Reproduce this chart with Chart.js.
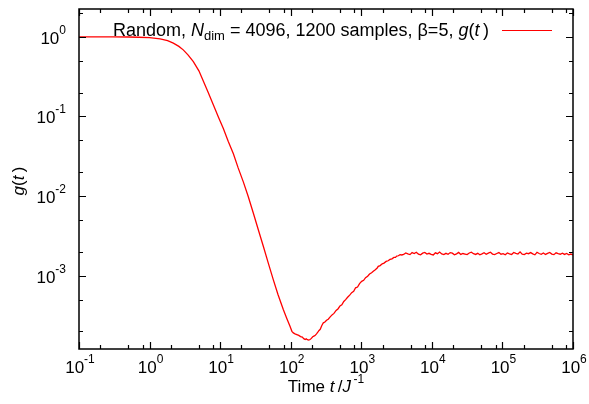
<!DOCTYPE html>
<html>
<head>
<meta charset="utf-8">
<script src="https://cdn.jsdelivr.net/npm/chart.js@4/dist/chart.umd.min.js"></script>
<style>
  html, body { margin: 0; padding: 0; background: #fff; }
</style>
</head>
<body>
<canvas id="grafico" width="589" height="404"></canvas>
<script>
// time values (t / J^-1) and g(t)
var tDecay = [0.1, 0.15, 0.2, 0.3, 0.5, 0.7, 1.0, 1.41, 1.8, 2.17,
  2.6, 3.0, 3.5, 4.17, 5.0, 5.77, 6.8, 8.0, 9.5, 11.1,
  13.0, 15.4, 18.0, 21.3, 25.0, 29.5, 35.0, 40.9, 48.0, 56.6,
  66.0, 78.5, 88.0, 97.7, 104, 109, 115, 122, 130, 138,
  146, 153, 160, 166, 172, 180, 188];
var gDecay = [1.0, 1.0, 1.0, 0.999, 0.996, 0.99, 0.976, 0.945, 0.895, 0.834,
  0.76, 0.687, 0.595, 0.49, 0.375, 0.28, 0.198, 0.140, 0.097, 0.0705,
  0.0488, 0.0340, 0.0226, 0.0151, 0.0099, 0.00614, 0.00370, 0.00234, 0.00145, 8.93e-4,
  5.8e-4, 3.76e-4, 2.9e-4, 2.32e-4, 2.0e-4, 1.91e-4, 1.86e-4, 1.82e-4, 1.78e-4, 1.72e-4,
  1.69e-4, 1.62e-4, 1.58e-4, 1.61e-4, 1.57e-4, 1.55e-4, 1.58e-4];

var tRise = [196, 205, 213, 221, 232, 242, 252, 262, 275, 290,
  305, 322, 340, 360, 385, 410, 440, 470, 499, 530,
  565, 600, 640, 685, 731, 780, 830, 885, 945, 1013,
  1080, 1150, 1230, 1310, 1400, 1480, 1580, 1680, 1741, 1850,
  1980, 2100, 2250, 2400, 2552, 2720, 2900, 3050, 3175, 3350,
  3550, 3750];
var gRise = [1.63e-4, 1.71e-4, 1.74e-4, 1.77e-4, 1.86e-4, 1.95e-4, 2.05e-4, 2.12e-4, 2.35e-4, 2.56e-4,
  2.62e-4, 2.76e-4, 2.84e-4, 3.02e-4, 3.22e-4, 3.36e-4, 3.66e-4, 3.85e-4, 4.18e-4, 4.32e-4,
  4.75e-4, 5.0e-4, 5.36e-4, 5.7e-4, 6.12e-4, 6.35e-4, 7.05e-4, 7.2e-4, 7.95e-4, 8.5e-4,
  8.75e-4, 9.45e-4, 9.85e-4, 1.05e-3, 1.09e-3, 1.14e-3, 1.19e-3, 1.25e-3, 1.31e-3, 1.34e-3,
  1.41e-3, 1.44e-3, 1.51e-3, 1.54e-3, 1.60e-3, 1.63e-3, 1.70e-3, 1.70e-3, 1.76e-3, 1.78e-3,
  1.84e-3, 1.82e-3];

var tPlateau = [3981, 4266, 4571, 4898, 5248, 5623, 6026, 6457, 6918, 7413,
  7943, 8511, 9120, 9772, 10470, 11220, 12020, 12880, 13800, 14790,
  15850, 16980, 18200, 19500, 20890, 22390, 23990, 25700, 27540, 29510,
  31620, 33880, 36310, 38900, 41690, 44670, 47860, 51290, 54950, 58880,
  63100, 67610, 72440, 77620, 83180, 89130, 95500, 102300, 109600, 117500,
  125900, 134900, 144500, 154900, 166000, 177800, 190500, 204200, 218800, 234400,
  251200, 269200, 288400, 309000, 331100, 354800, 380200, 407400, 436500, 467700,
  501200, 537000, 575400, 616600, 660700, 707900, 758600, 812800, 871000, 933300,
  1000000];
var gPlateau = [1.85e-3, 1.93e-3, 1.88e-3, 1.84e-3, 1.95e-3, 1.90e-3, 1.97e-3, 1.86e-3, 1.83e-3, 1.92e-3,
  1.96e-3, 1.87e-3, 1.91e-3, 1.85e-3, 1.82e-3, 1.94e-3, 1.89e-3, 1.98e-3, 1.88e-3, 1.84e-3,
  1.91e-3, 1.86e-3, 1.95e-3, 1.92e-3, 1.83e-3, 1.88e-3, 1.96e-3, 1.85e-3, 1.90e-3, 1.87e-3,
  1.84e-3, 1.93e-3, 1.97e-3, 1.89e-3, 1.85e-3, 1.91e-3, 1.83e-3, 1.88e-3, 1.94e-3, 1.86e-3,
  1.92e-3, 1.97e-3, 1.87e-3, 1.84e-3, 1.90e-3, 1.95e-3, 1.86e-3, 1.89e-3, 1.83e-3, 1.93e-3,
  1.88e-3, 1.85e-3, 1.96e-3, 1.91e-3, 1.87e-3, 1.99e-3, 1.86e-3, 1.84e-3, 1.92e-3, 1.89e-3,
  1.95e-3, 1.88e-3, 1.83e-3, 1.97e-3, 1.90e-3, 1.86e-3, 1.93e-3, 1.85e-3, 1.91e-3, 1.96e-3,
  1.87e-3, 1.84e-3, 1.94e-3, 1.89e-3, 1.86e-3, 1.92e-3, 1.85e-3, 1.90e-3, 1.83e-3, 1.87e-3,
  1.82e-3];

// tick labels are 10^exp
var xTickExp = [-1, 0, 1, 2, 3, 4, 5, 6];
var yTickExp = [0, -1, -2, -3];
var xMinor = [2, 5, 8];
var yMinor = [2, 5];

var FONT = '"Liberation Sans", Arial, Helvetica, sans-serif';

var tAll = tDecay.concat(tRise, tPlateau);
var gAll = gDecay.concat(gRise, gPlateau);
var punti = tAll.map(function (t, i) { return { x: t, y: gAll[i] }; });

// draw a list of text pieces: [text, italic, size, dy]
function pezzi(ctx, segs, x, y, align, size) {
  var w = 0;
  size = size || 17;
  segs.forEach(function (s) {
    ctx.font = (s[1] ? 'italic ' : '') + (s[2] || size) + 'px ' + FONT;
    s.w = ctx.measureText(s[0]).width;
    w += s.w;
  });
  var cx = align === 'right' ? x - w : (align === 'center' ? x - w / 2 : x);
  ctx.textAlign = 'left';
  ctx.textBaseline = 'alphabetic';
  segs.forEach(function (s) {
    ctx.font = (s[1] ? 'italic ' : '') + (s[2] || size) + 'px ' + FONT;
    ctx.fillText(s[0], cx, y + (s[3] || 0));
    cx += s.w;
  });
  return w;
}

var cornice = {
  id: 'cornice',
  afterDraw: function (chart) {
    var ctx = chart.ctx, a = chart.chartArea;
    var xs = chart.scales.x, ys = chart.scales.y;
    ctx.save();
    ctx.fillStyle = '#000';
    ctx.strokeStyle = '#000';
    ctx.lineWidth = 1.5;
    ctx.strokeRect(a.left, a.top, a.right - a.left, a.bottom - a.top);

    // ticks, drawn inside on all four sides
    ctx.lineWidth = 1.2;
    ctx.beginPath();
    xTickExp.forEach(function (e) {
      var v = Math.pow(10, e);
      var px = Math.round(xs.getPixelForValue(v)) + 0.5;
      ctx.moveTo(px, a.bottom); ctx.lineTo(px, a.bottom - 7);
      ctx.moveTo(px, a.top); ctx.lineTo(px, a.top + 7);
      if (e < 6) {
        xMinor.forEach(function (m) {
          var q = Math.round(xs.getPixelForValue(m * v)) + 0.5;
          ctx.moveTo(q, a.bottom); ctx.lineTo(q, a.bottom - 4);
          ctx.moveTo(q, a.top); ctx.lineTo(q, a.top + 4);
        });
      }
    });
    [-4, -3, -2, -1, 0].forEach(function (e) {
      var v = Math.pow(10, e);
      var py = Math.round(ys.getPixelForValue(v)) + 0.5;
      if (py > a.top && py < a.bottom) {
        ctx.moveTo(a.left, py); ctx.lineTo(a.left + 7, py);
        ctx.moveTo(a.right, py); ctx.lineTo(a.right - 7, py);
      }
      yMinor.forEach(function (m) {
        var q = Math.round(ys.getPixelForValue(m * v)) + 0.5;
        if (q > a.top + 1 && q < a.bottom - 1) {
          ctx.moveTo(a.left, q); ctx.lineTo(a.left + 4, q);
          ctx.moveTo(a.right, q); ctx.lineTo(a.right - 4, q);
        }
      });
    });
    ctx.stroke();

    // tick labels
    xTickExp.forEach(function (e) {
      var px = xs.getPixelForValue(Math.pow(10, e));
      pezzi(ctx, [['10', false, 17], [String(e), false, 12, -10]], px + 1, 373, 'center');
    });
    yTickExp.forEach(function (e) {
      var py = ys.getPixelForValue(Math.pow(10, e));
      pezzi(ctx, [['10', false, 17], [String(e), false, 12, -10]], 66, py + 7, 'right');
    });

    // axis titles
    pezzi(ctx, [['Time ', false], ['t', true], ['\u2009/', false], ['J', true], ['\u2009-1', false, 12, -9]], 326, 392, 'center');
    ctx.save();
    ctx.translate(24, 181);
    ctx.rotate(-Math.PI / 2);
    pezzi(ctx, [['g', true], ['(', false], ['t', true], ['\u2009)', false]], 0, 0, 'center');
    ctx.restore();

    // key
    var ds = chart.data.datasets[0];
    pezzi(ctx, [['Random, ', false], ['N', true], ['dim', false, 13, 4],
      [' = 4096, 1200 samples, \u03b2=5, ', false], ['g', true], ['(', false], ['t', true], ['\u2009)', false]], 489, 36, 'right', 18);
    ctx.strokeStyle = ds.borderColor;
    ctx.lineWidth = 1;
    ctx.beginPath();
    ctx.moveTo(502, 30.5); ctx.lineTo(552, 30.5);
    ctx.stroke();
    ctx.restore();
  }
};

var chart = new Chart(document.getElementById('grafico'), {
  type: 'scatter',
  data: {
    datasets: [{
      label: 'Random, Ndim = 4096, 1200 samples, \u03b2=5, g(t)',
      data: punti,
      showLine: true,
      borderColor: '#ff0000',
      borderWidth: 1.3,
      pointRadius: 0,
      tension: 0
    }]
  },
  options: {
    responsive: false,
    animation: false,
    events: [],
    layout: { padding: { left: 79, right: 16, top: 9, bottom: 55 } },
    plugins: { legend: { display: false }, tooltip: { enabled: false } },
    scales: {
      x: { type: 'logarithmic', min: 0.1, max: 1e6, display: false },
      y: { type: 'logarithmic', min: 1.2e-4, max: 2.24, display: false }
    }
  },
  plugins: [cornice]
});
</script>
</body>
</html>
